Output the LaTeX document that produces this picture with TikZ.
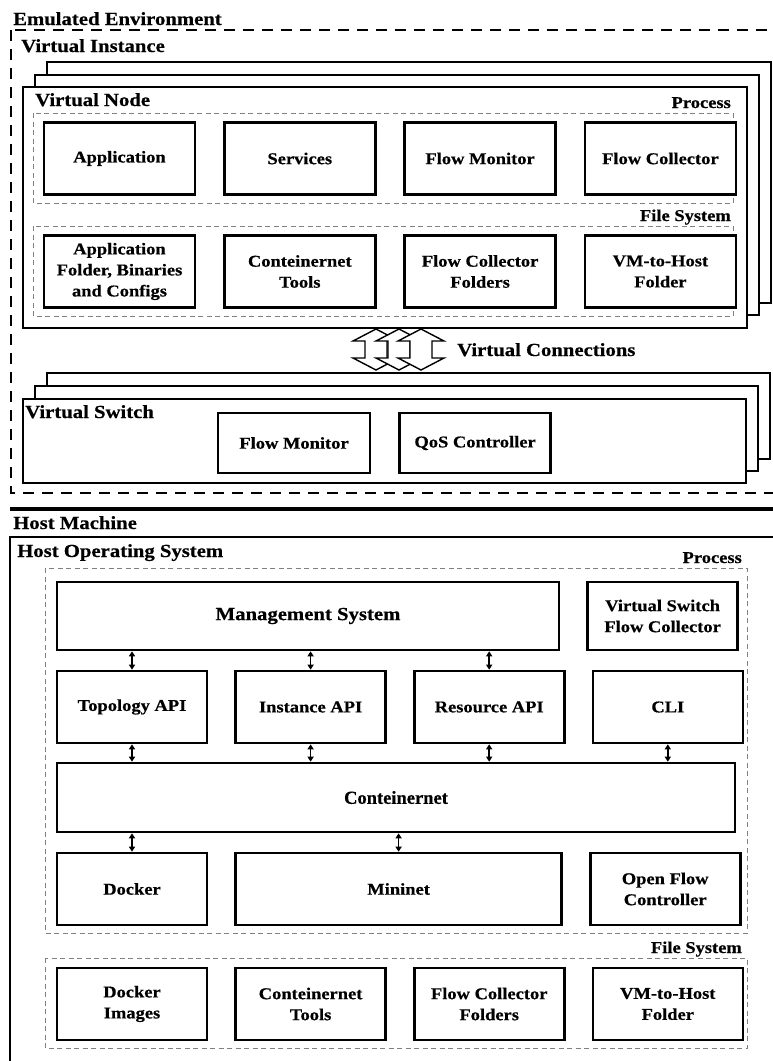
\documentclass[tikz,border=0pt]{standalone}
\usepackage{fontspec}
\setmainfont{Liberation Serif}[FakeStretch=1.12, BoldFeatures={FakeBold=0.5}]
\newfontfamily\plainserif{Liberation Serif}[BoldFeatures={FakeBold=0.5}]
\usetikzlibrary{positioning, arrows.meta}

\newcommand{\titlefont}{\bfseries\fontsize{18.5}{20}\selectfont}
\newcommand{\boxfont}{\bfseries\fontsize{16.5}{21}\selectfont}
\newcommand{\tagfont}{\bfseries\fontsize{16.5}{18}\selectfont}

\tikzset{
  block/.style={draw, line width=2.6pt, fill=white, align=center, inner sep=2pt, font=\boxfont},
  vnblock/.style={block, minimum width=151pt, minimum height=72pt},
  hostblock/.style={block, minimum width=150pt, minimum height=72pt},
  stack/.style={draw, line width=2pt, fill=white},
  envbox/.style={draw, line width=1.8pt, dash pattern=on 11pt off 8pt},
  areabox/.style={draw=gray, line width=0.9pt, dash pattern=on 5pt off 3.5pt},
  title/.style={anchor=base west, inner sep=0pt, font=\titlefont},
  tag/.style={anchor=base east, inner sep=0pt, font=\tagfont},
  link/.style={line width=1.6pt, {Triangle[width=6pt,length=5pt]}-{Triangle[width=6pt,length=5pt]}},
  vconn/.style={draw, line width=1.4pt, fill=white, line join=miter},
}

\begin{document}
\begin{tikzpicture}[x=1pt, y=-1pt, node distance=26pt]
\useasboundingbox (0,0) rectangle (773,1061);
\clip (0,0) rectangle (773,1061);

% emulated environment
\draw[envbox] (11,30) rectangle (800,493);
\node[title] (envtitle) at (13,25) {Emulated Environment};
\node[title] (vititle) at (21,52) {Virtual Instance};

% virtual node stack
\draw[stack] (47,62) rectangle (771,303);
\draw[stack] (35,75) rectangle (759,315);
\draw[stack] (23,87) rectangle (747,328);
\node[title] (vntitle) at (35,106) {Virtual Node};

\draw[areabox] (33,113) rectangle (733,203);
\node[tag] (vnproc) at (731,108) {Process};
\draw[areabox] (33,226) rectangle (733,316);
\node[tag] (vnfs) at (731,221) {File System};

\node[vnblock] (app) at (119.5,158.5) {Application};
\node[vnblock, right=26.7pt of app] (srv) {Services};
\node[vnblock, right=26.7pt of srv] (vnmon) {Flow Monitor};
\node[vnblock, right=26.7pt of vnmon] (vncol) {Flow Collector};

\node[vnblock] (appdir) at (119.5,271.5) {Application\\Folder, Binaries\\and Configs};
\node[vnblock, right=26.7pt of appdir] (vntools) {Conteinernet\\Tools};
\node[vnblock, right=26.7pt of vntools] (vnfold) {Flow Collector\\Folders};
\node[vnblock, right=26.7pt of vnfold] (vnvm) {VM-to-Host\\Folder};

% virtual connections
\foreach \cx in {376,399,421}
  \draw[vconn] (\cx,329) -- (\cx+23,341) -- (\cx+11,341) -- (\cx+11,358) -- (\cx+23,358)
    -- (\cx,370) -- (\cx-23,358) -- (\cx-11,358) -- (\cx-11,341) -- (\cx-23,341) -- cycle;
\node[title] (vctitle) at (457,356) {Virtual Connections};

% virtual switch stack
\draw[stack] (47,373) rectangle (770,459);
\draw[stack] (35,386) rectangle (758,471);
\draw[stack] (23,399) rectangle (746,483);
\node[title] (vstitle) at (25,418) {Virtual Switch};
\node[block, minimum width=152pt, minimum height=60pt] (vsmon) at (294,443) {Flow Monitor};
\node[block, minimum width=151pt, minimum height=60pt, right=27pt of vsmon] (qos) {QoS Controller};

% host machine
\draw[line width=4pt] (10,509) -- (800,509);
\node[title] (hmtitle) at (13,529) {Host Machine};
\draw[line width=2pt] (10,537) rectangle (800,1100);
\node[title] (ostitle) at (17,557) {Host Operating System};

\draw[areabox] (45,568) rectangle (747,933);
\node[tag] (hproc) at (742,563) {Process};
\draw[areabox] (45,958) rectangle (747,1048);
\node[tag] (hfs) at (742,953) {File System};

\node[block, minimum width=502pt, minimum height=68pt, font=\titlefont] (mgmt) at (308,616) {Management System};
\node[hostblock, minimum height=68pt, right=of mgmt] (vscol) {Virtual Switch\\Flow Collector};

\node[hostblock] (topo) at (132,707) {Topology API};
\node[hostblock, right=of topo] (inst) {Instance API};
\node[hostblock, right=of inst] (res) {Resource API};
\node[hostblock, right=of res] (cli) {CLI};

\node[block, minimum width=678pt, minimum height=69pt, font={\plainserif\bfseries\fontsize{18.5}{20}\selectfont}] (cnet) at (396,797.5) {Conteinernet};

\node[hostblock] (docker) at (132,889) {Docker};
\node[hostblock, minimum width=326pt, right=of docker] (mnet) {Mininet};
\node[hostblock, right=of mnet] (ofc) {Open Flow\\Controller};

\node[hostblock] (dimg) at (132,1004) {Docker\\Images};
\node[hostblock, right=of dimg] (htools) {Conteinernet\\Tools};
\node[hostblock, right=of htools] (hfold) {Flow Collector\\Folders};
\node[hostblock, right=of hfold] (hvm) {VM-to-Host\\Folder};

% links
\draw[link] (mgmt.south -| topo.north) -- (topo.north);
\draw[link] (mgmt.south -| inst.north) -- (inst.north);
\draw[link] (mgmt.south -| res.north) -- (res.north);
\draw[link] (topo.south) -- (cnet.north -| topo.south);
\draw[link] (inst.south) -- (cnet.north -| inst.south);
\draw[link] (res.south) -- (cnet.north -| res.south);
\draw[link] (cli.south) -- (cnet.north -| cli.south);
\draw[link] (cnet.south -| docker.north) -- (docker.north);
\draw[link] (cnet.south -| mnet.north) -- (mnet.north);
\end{tikzpicture}
\end{document}
